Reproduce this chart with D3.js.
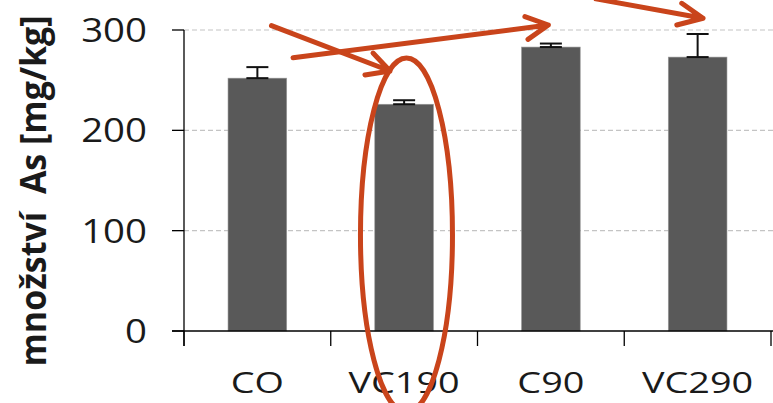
<!DOCTYPE html>
<html>
<head>
<meta charset="utf-8">
<script src="https://cdn.jsdelivr.net/npm/d3@7"></script>
<style>
  html, body { margin: 0; padding: 0; background: #fff; }
  svg { display: block; }
  text { font-family: "Open Sans", sans-serif; fill: #1a1a1a; }
</style>
</head>
<body>
<svg id="chart" width="773" height="403"></svg>
<script>
// data
const categories = ['CO', 'VC190', 'C90', 'VC290']
const values = [252, 226, 283, 273]
const errors = [11, 4, 3.5, 23]
const yTicks = [0, 100, 200, 300]
const yTitle = 'množství  As [mg/kg]'

// annotations, in (category index, value) units
const arrows = [
  { from: [0.596, 304.3], to: [1.404, 259.1], wings: [[1.288, 277], [1.233, 255.2]] },
  { from: [0.743, 272.4], to: [2.483, 305], wings: [[2.323, 313.3], [2.344, 290.7]] },
  { from: [2.807, 331], to: [3.537, 311.7], wings: [[3.392, 326.6], [3.358, 305]] }
]
const ellipse = { cx: 1.516, cy: 95.7, rx: 0.3135, ry: 176.4 }

const RED = '#c9441b'
const STRETCH = 1.2

const svg = d3.select('#chart')
const plotLeft = 184
const plotRight = 771
const plotTop = 30
const plotBottom = 331

const x = d3.scaleBand()
  .domain(categories)
  .range([plotLeft, plotRight])
  .paddingInner(0.6)
  .paddingOuter(0.3)

const xi = d3.scaleLinear().domain([0, categories.length]).range([plotLeft, plotRight])

const y = d3.scaleLinear().domain([0, 300]).range([plotBottom, plotTop])

// gridlines
svg.append('g')
  .selectAll('line')
  .data(yTicks.filter(d => d > 0))
  .enter().append('line')
  .attr('x1', plotLeft)
  .attr('x2', 773)
  .attr('y1', d => y(d))
  .attr('y2', d => y(d))
  .attr('stroke', '#c4c4c4')
  .attr('stroke-width', 1.2)
  .attr('stroke-dasharray', '5,3')

// bars
svg.append('g')
  .selectAll('rect')
  .data(values)
  .enter().append('rect')
  .attr('x', (d, i) => x(categories[i]))
  .attr('y', d => y(d))
  .attr('width', x.bandwidth())
  .attr('height', d => y(0) - y(d))
  .attr('fill', '#595959')
  .attr('stroke', '#9a9a9a')
  .attr('stroke-width', 0.6)

// error bars
const err = svg.append('g').attr('stroke', '#111').attr('stroke-width', 2)
values.forEach(function (v, i) {
  const cx = x(categories[i]) + x.bandwidth() / 2
  err.append('line').attr('x1', cx).attr('x2', cx).attr('y1', y(v)).attr('y2', y(v + errors[i]))
  err.append('line').attr('x1', cx - 11).attr('x2', cx + 11).attr('y1', y(v + errors[i])).attr('y2', y(v + errors[i]))
  err.append('line').attr('x1', cx - 11).attr('x2', cx + 11).attr('y1', y(v)).attr('y2', y(v))
})

// axes
const axes = svg.append('g').attr('stroke', '#000').attr('stroke-width', 1.3)
axes.append('line').attr('x1', plotLeft).attr('x2', plotLeft).attr('y1', plotTop).attr('y2', plotBottom + 15)
axes.append('line').attr('x1', plotLeft - 12).attr('x2', 773).attr('y1', plotBottom).attr('y2', plotBottom)
axes.selectAll('.ytick')
  .data(yTicks)
  .enter().append('line')
  .attr('x1', plotLeft - 12).attr('x2', plotLeft)
  .attr('y1', d => y(d)).attr('y2', d => y(d))
axes.selectAll('.xtick')
  .data(d3.range(categories.length + 1))
  .enter().append('line')
  .attr('x1', d => xi(d)).attr('x2', d => xi(d))
  .attr('y1', plotBottom).attr('y2', plotBottom + 15)

// tick labels
svg.append('g')
  .selectAll('text')
  .data(yTicks)
  .enter().append('text')
  .attr('transform', d => 'translate(147,' + (y(d) + 12) + ') scale(' + STRETCH + ',1)')
  .attr('text-anchor', 'end')
  .attr('font-size', 32)
  .text(d => d)

svg.append('g')
  .selectAll('text')
  .data(categories)
  .enter().append('text')
  .attr('transform', d => 'translate(' + (x(d) + x.bandwidth() / 2) + ',393) scale(1.26,1)')
  .attr('text-anchor', 'middle')
  .attr('font-size', 30)
  .text(d => d)

svg.append('text')
  .attr('transform', 'translate(46,191) scale(1.05,1) rotate(-90)')
  .attr('text-anchor', 'middle')
  .attr('font-size', 34)
  .attr('font-weight', 'bold')
  .style('white-space', 'pre')
  .text(yTitle)

// annotations
const ann = svg.append('g')
  .attr('fill', 'none')
  .attr('stroke', RED)
  .attr('stroke-width', 5)
  .attr('stroke-linecap', 'round')
  .attr('stroke-linejoin', 'round')

const pt = p => [xi(p[0]), y(p[1])]
const line = d3.line()

ann.append('ellipse')
  .attr('cx', xi(ellipse.cx))
  .attr('cy', y(ellipse.cy))
  .attr('rx', xi(ellipse.rx) - xi(0))
  .attr('ry', y(0) - y(ellipse.ry))

ann.selectAll('.arrow')
  .data(arrows)
  .enter().append('path')
  .attr('d', a => line([pt(a.from), pt(a.to)]) + line([pt(a.wings[0]), pt(a.to), pt(a.wings[1])]))
</script>
</body>
</html>
